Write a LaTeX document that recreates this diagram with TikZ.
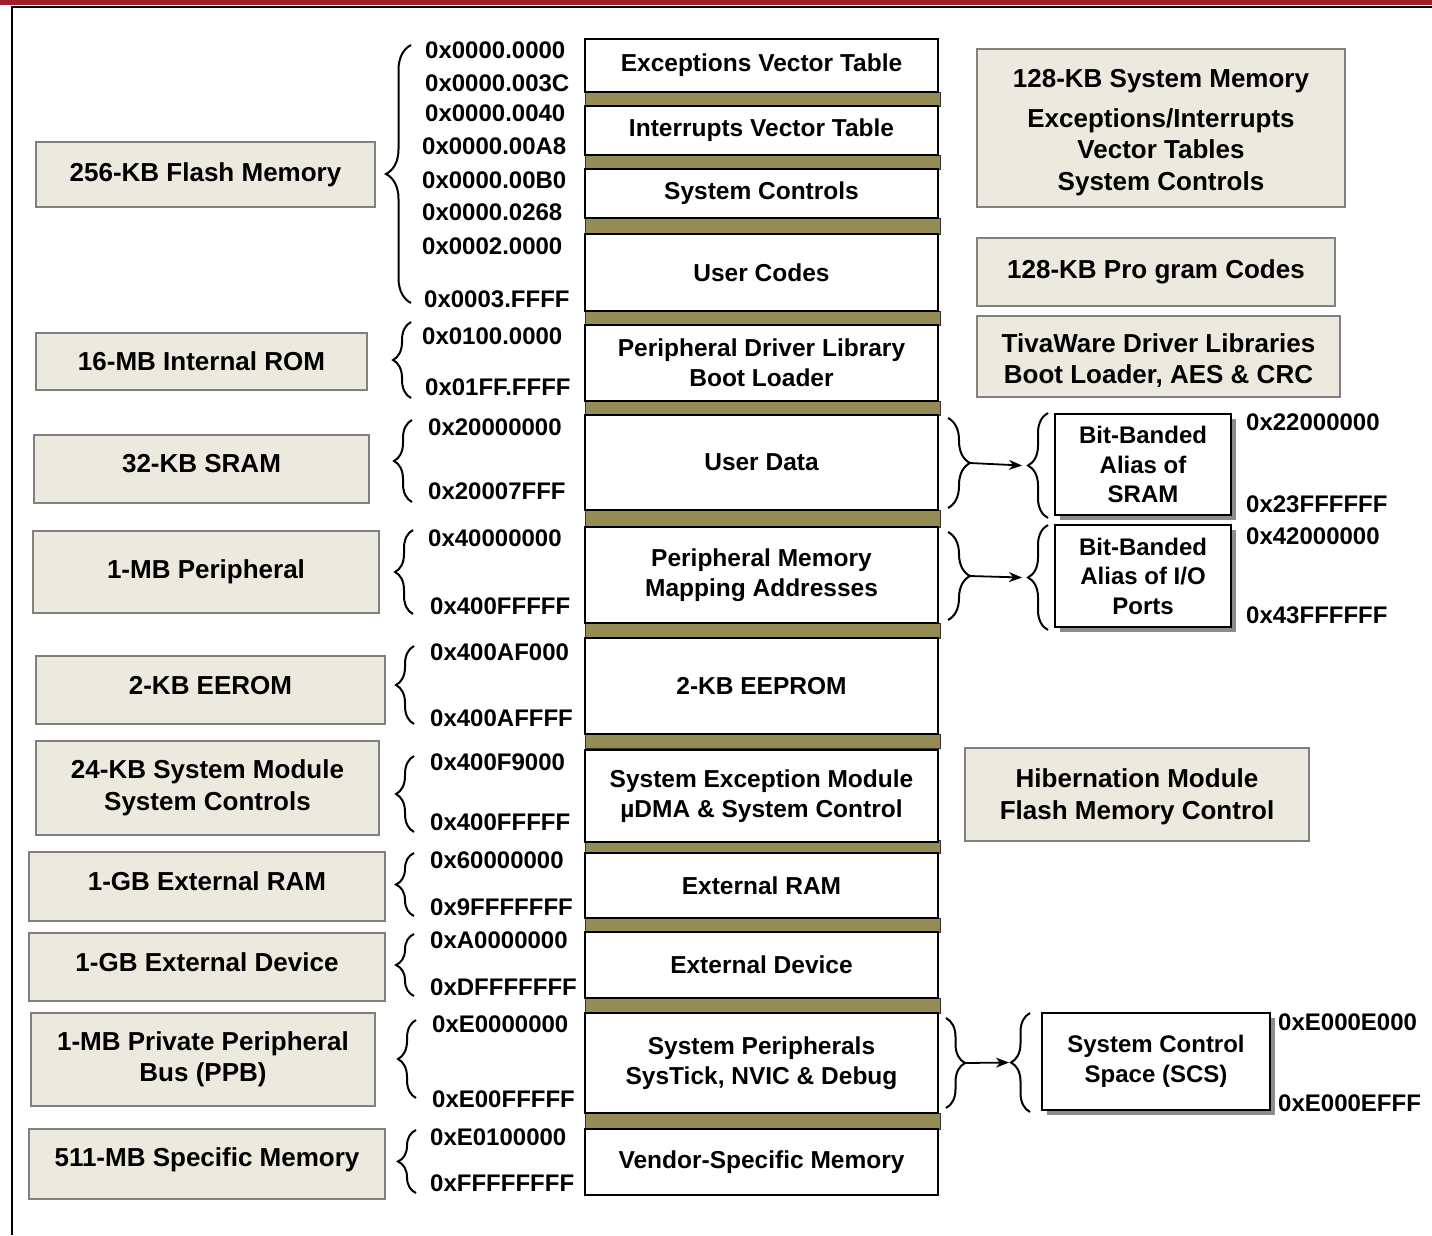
\documentclass[tikz,border=0pt]{standalone}
\usepackage{fontspec}
\setmainfont{Liberation Sans}
\usetikzlibrary{decorations.pathreplacing,arrows.meta,shadows}
\definecolor{beige}{RGB}{236,234,223}
\definecolor{barolive}{RGB}{149,139,85}
\definecolor{bandred}{RGB}{160,30,45}
\newcommand{\topstrut}[1]{\rule{0pt}{#1}}
\begin{document}
\begin{tikzpicture}[x=1pt,y=-1pt,
  every node/.style={font=\fontsize{24}{30}\selectfont\bfseries},
  lbox/.style={draw=black!50, fill=beige, line width=1.3pt, inner sep=0pt, align=center,
    font=\fontsize{26}{31.5}\selectfont\bfseries},
  mbox/.style={draw=black, fill=white, line width=1.8pt, inner sep=0pt, align=center,
    font=\fontsize{24.5}{30}\selectfont\bfseries},
  bar/.style={draw=black!80, fill=barolive, line width=1pt},
  sbox/.style={draw=black, fill=white, line width=1.8pt, inner sep=0pt, align=center,
    font=\fontsize{24}{29.5}\selectfont\bfseries,
    drop shadow={shadow xshift=5pt, shadow yshift=-5pt, fill=black!45, opacity=1}},
  addr/.style={anchor=west, inner sep=0pt},
  brc/.style={decorate, decoration={brace, amplitude=#1}, line width=2pt},
  conn/.style={-{Stealth[length=13pt,width=10pt,inset=4pt]}, line width=1.8pt}]

\path[use as bounding box] (0,0) rectangle (1432,1235);

% page band and frame
\fill[bandred] (0,0) rectangle (1432,4.5);
\draw[line width=1.5pt] (12,1235) -- (12,7) -- (1432,7);

% ---------- left column: region sizes ----------
\node[lbox, minimum width=339, minimum height=65] (flash) at (205.5,174.5) {256-KB Flash Memory};
\node[lbox, minimum width=331, minimum height=57] (rom) at (201.5,361.5) {16-MB Internal ROM};
\node[lbox, minimum width=335, minimum height=68, text depth=12pt] (sram) at (201.5,469) {32-KB SRAM};
\node[lbox, minimum width=346, minimum height=82] (periph) at (206,572) {1-MB Peripheral};
\node[lbox, minimum width=349, minimum height=68, text depth=10pt] (eerom) at (210.5,690) {2-KB EEROM};
\node[lbox, minimum width=343, minimum height=94] (sysmod) at (207.5,788) {24-KB System Module\\System Controls};
\node[lbox, minimum width=356, minimum height=69, text depth=10pt] (extram) at (207,886.5) {1-GB External RAM};
\node[lbox, minimum width=356, minimum height=68, text depth=10pt] (extdev) at (207,967) {1-GB External Device};
\node[lbox, minimum width=344, minimum height=93] (ppb) at (203,1059.5) {1-MB Private Peripheral\\Bus (PPB)};
\node[lbox, minimum width=356, minimum height=70, text depth=13pt] (spec) at (207,1164) {511-MB Specific Memory};

% ---------- centre column: memory map ----------
\foreach \a/\b in {92/106,155/169,218/234,311/325,401/415,510/527,623/638,734/748,840/853,918/932,998/1013,1113/1129}
  \filldraw[bar] (585,\a) rectangle (940,\b);

\node[mbox, minimum width=353, minimum height=53] (evt) at (761.5,65.5) {Exceptions Vector Table};
\node[mbox, minimum width=353, minimum height=49] (ivt) at (761.5,130.5) {Interrupts Vector Table};
\node[mbox, minimum width=353, minimum height=49] (sysc) at (761.5,193.5) {System Controls};
\node[mbox, minimum width=353, minimum height=77] (ucode) at (761.5,272.5) {User Codes};
\node[mbox, minimum width=353, minimum height=76] (pdl) at (761.5,363) {Peripheral Driver Library\\Boot Loader};
\node[mbox, minimum width=353, minimum height=95] (udata) at (761.5,462.5) {User Data};
\node[mbox, minimum width=353, minimum height=96] (pmem) at (761.5,575) {Peripheral Memory\\Mapping Addresses};
\node[mbox, minimum width=353, minimum height=96] (eeprom) at (761.5,686) {2-KB EEPROM};
\node[mbox, minimum width=353, minimum height=92] (sem) at (761.5,796) {System Exception Module\\µDMA \& System Control};
\node[mbox, minimum width=353, minimum height=65] (eram) at (761.5,885.5) {External RAM};
\node[mbox, minimum width=353, minimum height=66] (edev) at (761.5,965) {External Device};
\node[mbox, minimum width=353, minimum height=100] (speri) at (761.5,1063) {System Peripherals\\SysTick, NVIC \& Debug};
\node[mbox, minimum width=353, minimum height=66] (vendor) at (761.5,1162) {Vendor-Specific Memory};

% ---------- address labels ----------
\node[addr] (a1) at (425,50) {0x0000.0000};
\node[addr] (a2) at (425,83) {0x0000.003C};
\node[addr] (a3) at (425,113) {0x0000.0040};
\node[addr] (a4) at (422,146) {0x0000.00A8};
\node[addr] (a5) at (422,180) {0x0000.00B0};
\node[addr] (a6) at (422,212) {0x0000.0268};
\node[addr] (a7) at (422,246) {0x0002.0000};
\node[addr] (a8) at (424,299) {0x0003.FFFF};
\node[addr] (b1) at (422,336) {0x0100.0000};
\node[addr] (b2) at (425,387) {0x01FF.FFFF};
\node[addr] (c1) at (428,427) {0x20000000};
\node[addr] (c2) at (428,491) {0x20007FFF};
\node[addr] (d1) at (428,538) {0x40000000};
\node[addr] (d2) at (430,606) {0x400FFFFF};
\node[addr] (e1) at (430,652) {0x400AF000};
\node[addr] (e2) at (430,718) {0x400AFFFF};
\node[addr] (f1) at (430,762) {0x400F9000};
\node[addr] (f2) at (430,822) {0x400FFFFF};
\node[addr] (g1) at (430,860) {0x60000000};
\node[addr] (g2) at (430,907) {0x9FFFFFFF};
\node[addr] (h1) at (430,940) {0xA0000000};
\node[addr] (h2) at (430,987) {0xDFFFFFFF};
\node[addr] (i1) at (432,1024) {0xE0000000};
\node[addr] (i2) at (432,1099) {0xE00FFFFF};
\node[addr] (j1) at (430,1137) {0xE0100000};
\node[addr] (j2) at (430,1183) {0xFFFFFFFF};

% ---------- opening braces for each region ----------
\draw[brc=25pt] (411,303) -- (411,45);
\draw[brc=18pt] (411,398) -- (411,322);
\draw[brc=18pt] (412,502) -- (412,420);
\draw[brc=18pt] (413,614) -- (413,530);
\draw[brc=18pt] (414,724) -- (414,646);
\draw[brc=18pt] (414,832) -- (414,756);
\draw[brc=18pt] (414,916) -- (414,853);
\draw[brc=18pt] (414,996) -- (414,934);
\draw[brc=18pt] (416,1098) -- (416,1020);
\draw[brc=18pt] (416,1193) -- (416,1130);

% ---------- right column: descriptions ----------
\node[lbox, minimum width=368, minimum height=158] (sysmem) at (1161,128)
  {\topstrut{27pt}128-KB System Memory\\[8pt]Exceptions/Interrupts\\Vector Tables\\System Controls};
\node[lbox, minimum width=358, minimum height=68] (pcodes) at (1156,272) {128-KB Pro gram Codes};
\node[lbox, minimum width=363, minimum height=81] (tiva) at (1158.5,356.5) {\topstrut{27pt}TivaWare Driver Libraries\\Boot Loader, AES \& CRC};
\node[lbox, minimum width=344, minimum height=93] (hib) at (1137,794.5) {\topstrut{23pt}Hibernation Module\\Flash Memory Control};

% ---------- bit-band and SCS expansions ----------
\node[sbox, minimum width=176, minimum height=101] (bbsram) at (1143,464.5) {Bit-Banded\\Alias of\\SRAM};
\node[sbox, minimum width=176, minimum height=102] (bbio) at (1143,576) {Bit-Banded\\Alias of I/O\\Ports};
\node[sbox, minimum width=228, minimum height=97] (scs) at (1156,1061.5) {System Control\\Space (SCS)};

\node[addr] (k1) at (1246,422) {0x22000000};
\node[addr] (k2) at (1246,504) {0x23FFFFFF};
\node[addr] (l1) at (1246,536) {0x42000000};
\node[addr] (l2) at (1246,615) {0x43FFFFFF};
\node[addr] (m1) at (1278,1022) {0xE000E000};
\node[addr] (m2) at (1278,1103) {0xE000EFFF};

% closing braces on the memory map, opening braces on the expansions
\draw[brc=22pt] (948,418) -- (948,508);
\draw[brc=22pt] (948,532) -- (948,620);
\draw[brc=19pt] (946,1018) -- (946,1108);
\draw[brc=20pt] (1048,518) -- (1048,413);
\draw[brc=20pt] (1048,630) -- (1048,525);
\draw[brc=19pt] (1030,1112) -- (1030,1013);

\coordinate (udR) at (970,463);
\coordinate (udL) at (1022,465.5);
\coordinate (pmR) at (970,576);
\coordinate (pmL) at (1022,577.5);
\coordinate (spR) at (965,1063);
\coordinate (spL) at (1009,1062.5);
\draw[conn] (udR) -- (udL);
\draw[conn] (pmR) -- (pmL);
\draw[conn] (spR) -- (spL);

\end{tikzpicture}
\end{document}
